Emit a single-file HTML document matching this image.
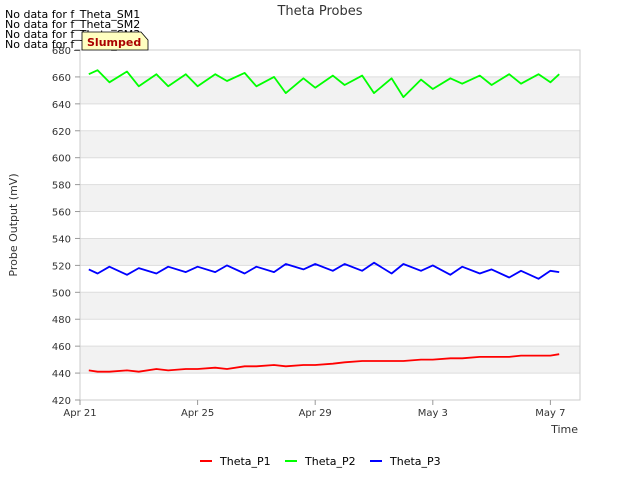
<!DOCTYPE html>
<html><head><meta charset="utf-8"><style>
body{margin:0;background:#fff;font-family:"Liberation Sans","DejaVu Sans",sans-serif}
text{font-family:"DejaVu Sans","Liberation Sans",sans-serif}
</style></head><body>
<svg width="640" height="480" id="c" xmlns="http://www.w3.org/2000/svg">
<rect width="640" height="480" fill="#fff"/>
<g id="bands"></g>
<text x="320" y="15" text-anchor="middle" font-size="13" fill="#333">Theta Probes</text>
<text transform="translate(17,225) rotate(-90)" text-anchor="middle" font-size="11" fill="#333">Probe Output (mV)</text>
<text x="578" y="433" text-anchor="end" font-size="11" fill="#333">Time</text>
<g id="ticks"></g>
<g id="series"></g>
<g font-size="11" fill="#000">
<text x="5" y="18">No data for f_Theta_SM1</text>
<text x="5" y="28">No data for f_Theta_SM2</text>
<text x="5" y="38">No data for f_Theta_SM3</text>
<text x="5" y="48">No data for f_Theta_SM4</text>
</g>
<g>
<path d="M82,50 L82,32 L141,32 L148,40 L148,50 Z" fill="#ffffc0" stroke="#000" stroke-width="0.8"/>
<text x="87" y="46" font-size="11" fill="#a00" font-weight="bold">Slumped</text>
</g>
<g font-size="11" fill="#000">
<line x1="200" y1="461" x2="212" y2="461" stroke="#f00" stroke-width="2"/><text x="220" y="465">Theta_P1</text>
<line x1="285" y1="461" x2="297" y2="461" stroke="#0f0" stroke-width="2"/><text x="305" y="465">Theta_P2</text>
<line x1="370" y1="461" x2="382" y2="461" stroke="#00f" stroke-width="2"/><text x="390" y="465">Theta_P3</text>
</g>
</svg>
<script>
const days=[0.3,0.6,1.0,1.6,2.0,2.6,3.0,3.6,4.0,4.6,5.0,5.6,6.0,6.6,7.0,7.6,8.0,8.6,9.0,9.6,10.0,10.6,11.0,11.6,12.0,12.6,13.0,13.6,14.0,14.6,15.0,15.6,16.0,16.3];
const p1=[442,441,441,442,441,443,442,443,443,444,443,445,445,446,445,446,446,447,448,449,449,449,449,450,450,451,451,452,452,452,453,453,453,454,454,453,454,454];
const p2=[662,665,656,664,653,662,653,662,653,662,657,663,653,660,648,659,652,661,654,661,648,659,645,658,651,659,655,661,654,662,655,662,656,662];
const p3=[517,514,519,513,518,514,519,515,519,515,520,514,519,515,521,517,521,516,521,516,522,514,521,516,520,513,519,514,517,511,516,510,516,515];
const yTicks=[420,440,460,480,500,520,540,560,580,600,620,640,660,680];
const xTicks=[0,4,8,12,16];
const xLabels=["Apr 21","Apr 25","Apr 29","May 3","May 7"];
const X=d=>80+d*29.4, Y=v=>400-(v-420)*350/260;
const NS="http://www.w3.org/2000/svg";
const mk=(t,a,p)=>{const e=document.createElementNS(NS,t);for(const k in a)e.setAttribute(k,a[k]);p.appendChild(e);return e;};
const bands=document.getElementById('bands'),ticks=document.getElementById('ticks'),ser=document.getElementById('series');
for(let i=0;i<yTicks.length-1;i++){
 const r=mk('rect',{x:80,y:Y(yTicks[i+1]),width:500,height:Y(yTicks[i])-Y(yTicks[i+1]),fill:(i%2===1)?'#f2f2f2':'#fff'},bands);
 
 
}
yTicks.forEach(v=>{
 const l=mk('line',{x1:80,x2:580,y1:Y(v),y2:Y(v),stroke:'#ddd','stroke-width':1},bands);
 
 
 const t=mk('text',{x:71,y:Y(v)+4,'text-anchor':'end','font-size':10,fill:'#333'},ticks);
 
 
 t.textContent=v;
 mk('line',{x1:75,x2:80,y1:Y(v),y2:Y(v),stroke:'#999'},ticks);
});
const fr=mk('rect',{x:80,y:50,width:500,height:350,fill:'none',stroke:'#ccc'},bands);


xTicks.forEach((d,i)=>{
 mk('line',{x1:X(d),x2:X(d),y1:400,y2:405,stroke:'#999'},ticks);
 const t=mk('text',{x:X(d),y:416,'text-anchor':'middle','font-size':10,fill:'#333'},ticks);
 
 
 t.textContent=xLabels[i];
});
[[p1,'#f00','series-theta-p1'],[p2,'#0f0','series-theta-p2'],[p3,'#00f','series-theta-p3']].forEach(([vals,col,nm])=>{
 const pts=days.map((d,i)=>X(d).toFixed(1)+','+Y(vals[i]).toFixed(1)).join(' ');
 const pl=mk('polyline',{points:pts,fill:'none',stroke:col,'stroke-width':1.8,'stroke-linejoin':'round'},ser);
 
 
});
</script>
</body></html>
